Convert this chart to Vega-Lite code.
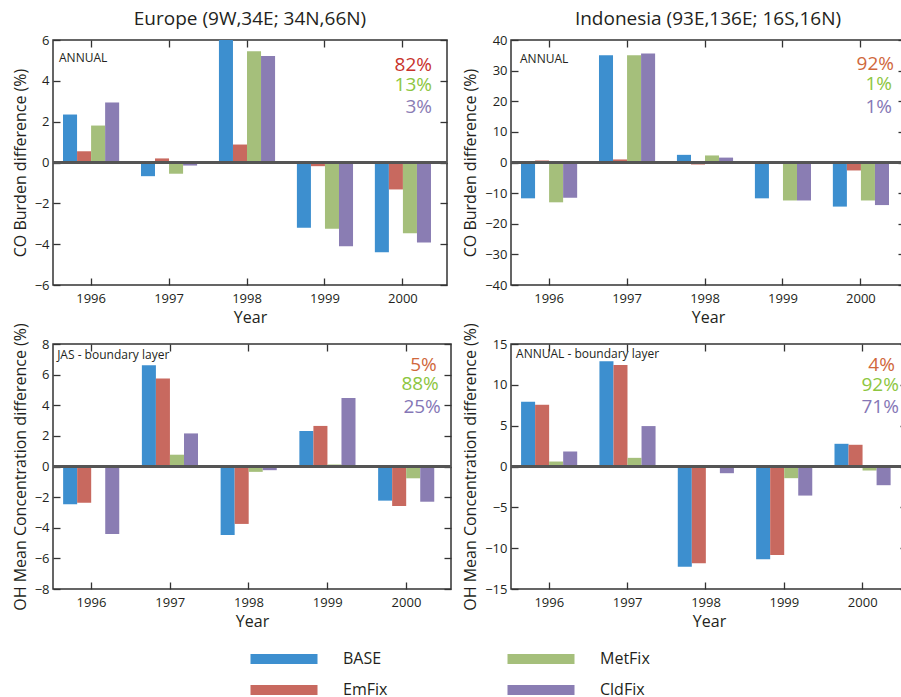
{
  "$schema": "https://vega.github.io/schema/vega-lite/v6.json",
  "background": "white",
  "padding": {"left": 11, "top": 9, "right": 0, "bottom": 0},
  "config": {
    "font": "Open Sans",
    "view": {"stroke": "#333333", "strokeWidth": 1.5},
    "axis": {"labelFontSize": 13, "labelColor": "#231f20", "titleFontSize": 16, "titleFontWeight": "normal", "titleColor": "#231f20", "domain": false, "grid": false, "tickColor": "#333333", "tickSize": -7, "tickWidth": 1.3},
    "axisX": {"labelAngle": 0, "labelPadding": 14, "titlePadding": 4},
    "axisY": {"labelPadding": 11, "titlePadding": 6},
    "title": {"fontSize": 19, "fontWeight": "normal", "color": "#231f20", "offset": 5},
    "legend": {"orient": "none", "legendX": 195, "legendY": 611, "direction": "vertical", "columns": 2, "columnPadding": 117, "rowPadding": 15, "symbolType": "M-6.7,-1L6.7,-1L6.7,1L-6.7,1Z", "symbolSize": 100, "symbolOffset": 28, "labelOffset": 51, "labelFontSize": 16, "labelColor": "#231f20", "symbolStrokeWidth": 0, "symbolOpacity": 1}
  },
  "datasets": {
    "eu_co": [
      {"year": "1996", "series": "BASE", "value": 2.35}, {"year": "1996", "series": "EmFix", "value": 0.55}, {"year": "1996", "series": "MetFix", "value": 1.81}, {"year": "1996", "series": "CldFix", "value": 2.94},
      {"year": "1997", "series": "BASE", "value": -0.67}, {"year": "1997", "series": "EmFix", "value": 0.2}, {"year": "1997", "series": "MetFix", "value": -0.55}, {"year": "1997", "series": "CldFix", "value": -0.15},
      {"year": "1998", "series": "BASE", "value": 6.0}, {"year": "1998", "series": "EmFix", "value": 0.88}, {"year": "1998", "series": "MetFix", "value": 5.45}, {"year": "1998", "series": "CldFix", "value": 5.22},
      {"year": "1999", "series": "BASE", "value": -3.2}, {"year": "1999", "series": "EmFix", "value": -0.18}, {"year": "1999", "series": "MetFix", "value": -3.25}, {"year": "1999", "series": "CldFix", "value": -4.1},
      {"year": "2000", "series": "BASE", "value": -4.4}, {"year": "2000", "series": "EmFix", "value": -1.32}, {"year": "2000", "series": "MetFix", "value": -3.47}, {"year": "2000", "series": "CldFix", "value": -3.92}
    ],
    "id_co": [
      {"year": "1996", "series": "BASE", "value": -11.7}, {"year": "1996", "series": "EmFix", "value": 0.65}, {"year": "1996", "series": "MetFix", "value": -13.0}, {"year": "1996", "series": "CldFix", "value": -11.5},
      {"year": "1997", "series": "BASE", "value": 35.0}, {"year": "1997", "series": "EmFix", "value": 1.0}, {"year": "1997", "series": "MetFix", "value": 35.0}, {"year": "1997", "series": "CldFix", "value": 35.6},
      {"year": "1998", "series": "BASE", "value": 2.5}, {"year": "1998", "series": "EmFix", "value": -0.65}, {"year": "1998", "series": "MetFix", "value": 2.3}, {"year": "1998", "series": "CldFix", "value": 1.6},
      {"year": "1999", "series": "BASE", "value": -11.7}, {"year": "1999", "series": "EmFix", "value": 0.3}, {"year": "1999", "series": "MetFix", "value": -12.4}, {"year": "1999", "series": "CldFix", "value": -12.4},
      {"year": "2000", "series": "BASE", "value": -14.4}, {"year": "2000", "series": "EmFix", "value": -2.6}, {"year": "2000", "series": "MetFix", "value": -12.4}, {"year": "2000", "series": "CldFix", "value": -13.9}
    ],
    "eu_oh": [
      {"year": "1996", "series": "BASE", "value": -2.47}, {"year": "1996", "series": "EmFix", "value": -2.36}, {"year": "1996", "series": "MetFix", "value": 0}, {"year": "1996", "series": "CldFix", "value": -4.41},
      {"year": "1997", "series": "BASE", "value": 6.62}, {"year": "1997", "series": "EmFix", "value": 5.74}, {"year": "1997", "series": "MetFix", "value": 0.77}, {"year": "1997", "series": "CldFix", "value": 2.16},
      {"year": "1998", "series": "BASE", "value": -4.48}, {"year": "1998", "series": "EmFix", "value": -3.75}, {"year": "1998", "series": "MetFix", "value": -0.35}, {"year": "1998", "series": "CldFix", "value": -0.24},
      {"year": "1999", "series": "BASE", "value": 2.32}, {"year": "1999", "series": "EmFix", "value": 2.65}, {"year": "1999", "series": "MetFix", "value": 0.13}, {"year": "1999", "series": "CldFix", "value": 4.48},
      {"year": "2000", "series": "BASE", "value": -2.23}, {"year": "2000", "series": "EmFix", "value": -2.58}, {"year": "2000", "series": "MetFix", "value": -0.77}, {"year": "2000", "series": "CldFix", "value": -2.3}
    ],
    "id_oh": [
      {"year": "1996", "series": "BASE", "value": 7.93}, {"year": "1996", "series": "EmFix", "value": 7.56}, {"year": "1996", "series": "MetFix", "value": 0.61}, {"year": "1996", "series": "CldFix", "value": 1.84},
      {"year": "1997", "series": "BASE", "value": 12.88}, {"year": "1997", "series": "EmFix", "value": 12.43}, {"year": "1997", "series": "MetFix", "value": 1.06}, {"year": "1997", "series": "CldFix", "value": 4.95},
      {"year": "1998", "series": "BASE", "value": -12.27}, {"year": "1998", "series": "EmFix", "value": -11.86}, {"year": "1998", "series": "MetFix", "value": -0.08}, {"year": "1998", "series": "CldFix", "value": -0.82},
      {"year": "1999", "series": "BASE", "value": -11.37}, {"year": "1999", "series": "EmFix", "value": -10.83}, {"year": "1999", "series": "MetFix", "value": -1.43}, {"year": "1999", "series": "CldFix", "value": -3.56},
      {"year": "2000", "series": "BASE", "value": 2.78}, {"year": "2000", "series": "EmFix", "value": 2.66}, {"year": "2000", "series": "MetFix", "value": -0.49}, {"year": "2000", "series": "CldFix", "value": -2.29}
    ]
  },
  "columns": 2,
  "spacing": {"row": -4, "column": 8},
  "concat": [
    {
      "width": 394, "height": 245,
      "title": {"text": "Europe (9W,34E; 34N,66N)"},
      "data": {"name": "eu_co"},
      "resolve": {"axis": {"x": "independent", "y": "independent"}},
      "layer": [
        {
          "mark": {"type": "bar", "clip": true},
          "encoding": {
            "x": {"field": "year", "type": "nominal", "title": "Year", "scale": {"paddingInner": 0.28, "paddingOuter": 0.167, "align": 0.385}, "axis": {"orient": "bottom"}},
            "xOffset": {"field": "series", "type": "nominal", "sort": ["BASE", "EmFix", "MetFix", "CldFix"], "scale": {"paddingInner": 0, "paddingOuter": 0}},
            "y": {"field": "value", "type": "quantitative", "title": "CO Burden difference (%)", "scale": {"domain": [-6, 6], "nice": false, "zero": false}, "axis": {"orient": "left", "values": [-6, -4, -2, 0, 2, 4, 6]}},
            "color": {"field": "series", "type": "nominal", "title": null, "scale": {"domain": ["BASE", "EmFix", "MetFix", "CldFix"], "range": ["#3d8fcf", "#c8695f", "#a5bf7b", "#8a7db3"]}}
          }
        },
        {
          "mark": {"type": "text", "text": ""},
          "encoding": {
            "x": {"field": "year", "type": "nominal", "axis": {"orient": "top", "labels": false, "title": null}},
            "y": {"field": "value", "type": "quantitative", "axis": {"orient": "right", "labels": false, "title": null, "values": [-6, -4, -2, 0, 2, 4, 6]}}
          }
        },
        {
          "mark": {"type": "rule", "color": "#555555", "strokeWidth": 1.5},
          "encoding": {"y": {"datum": 0, "type": "quantitative", "axis": null}}
        },
        {
          "data": {"values": [{"label": "ANNUAL"}]},
          "mark": {"type": "text", "align": "left", "baseline": "middle", "fontSize": 12, "color": "#231f20", "dx": -4},
          "encoding": {"text": {"field": "label"}, "x": {"datum": "1996", "bandPosition": 0, "axis": null}, "y": {"datum": 5.12, "type": "quantitative", "axis": null}}
        },
        {
          "data": {"values": [{"label": "82%"}]},
          "mark": {"type": "text", "align": "right", "baseline": "middle", "fontSize": 19, "color": "#c8332c", "dx": 1},
          "encoding": {"text": {"field": "label"}, "x": {"datum": "2000", "bandPosition": 1, "axis": null}, "y": {"datum": 4.78, "type": "quantitative", "axis": null}}
        },
        {
          "data": {"values": [{"label": "13%"}]},
          "mark": {"type": "text", "align": "right", "baseline": "middle", "fontSize": 19, "color": "#8dc641", "dx": 1},
          "encoding": {"text": {"field": "label"}, "x": {"datum": "2000", "bandPosition": 1, "axis": null}, "y": {"datum": 3.8, "type": "quantitative", "axis": null}}
        },
        {
          "data": {"values": [{"label": "3%"}]},
          "mark": {"type": "text", "align": "right", "baseline": "middle", "fontSize": 19, "color": "#8a7cb5", "dx": 1},
          "encoding": {"text": {"field": "label"}, "x": {"datum": "2000", "bandPosition": 1, "axis": null}, "y": {"datum": 2.72, "type": "quantitative", "axis": null}}
        }
      ]
    },
    {
      "width": 394, "height": 245,
      "title": {"text": "Indonesia (93E,136E; 16S,16N)"},
      "data": {"name": "id_co"},
      "resolve": {"axis": {"x": "independent", "y": "independent"}},
      "layer": [
        {
          "mark": {"type": "bar", "clip": true},
          "encoding": {
            "x": {"field": "year", "type": "nominal", "title": "Year", "scale": {"paddingInner": 0.28, "paddingOuter": 0.167, "align": 0.385}, "axis": {"orient": "bottom"}},
            "xOffset": {"field": "series", "type": "nominal", "sort": ["BASE", "EmFix", "MetFix", "CldFix"], "scale": {"paddingInner": 0, "paddingOuter": 0}},
            "y": {"field": "value", "type": "quantitative", "title": "CO Burden difference (%)", "scale": {"domain": [-40, 40], "nice": false, "zero": false}, "axis": {"orient": "left", "values": [-40, -30, -20, -10, 0, 10, 20, 30, 40]}},
            "color": {"field": "series", "type": "nominal", "title": null, "scale": {"domain": ["BASE", "EmFix", "MetFix", "CldFix"], "range": ["#3d8fcf", "#c8695f", "#a5bf7b", "#8a7db3"]}}
          }
        },
        {
          "mark": {"type": "text", "text": ""},
          "encoding": {
            "x": {"field": "year", "type": "nominal", "axis": {"orient": "top", "labels": false, "title": null}},
            "y": {"field": "value", "type": "quantitative", "axis": {"orient": "right", "labels": false, "title": null, "values": [-40, -30, -20, -10, 0, 10, 20, 30, 40]}}
          }
        },
        {
          "mark": {"type": "rule", "color": "#555555", "strokeWidth": 1.5},
          "encoding": {"y": {"datum": 0, "type": "quantitative", "axis": null}}
        },
        {
          "data": {"values": [{"label": "ANNUAL"}]},
          "mark": {"type": "text", "align": "left", "baseline": "middle", "fontSize": 12, "color": "#231f20", "dx": -1},
          "encoding": {"text": {"field": "label"}, "x": {"datum": "1996", "bandPosition": 0, "axis": null}, "y": {"datum": 33.8, "type": "quantitative", "axis": null}}
        },
        {
          "data": {"values": [{"label": "92%"}]},
          "mark": {"type": "text", "align": "right", "baseline": "middle", "fontSize": 19, "color": "#d0683c", "dx": 5},
          "encoding": {"text": {"field": "label"}, "x": {"datum": "2000", "bandPosition": 1, "axis": null}, "y": {"datum": 32.2, "type": "quantitative", "axis": null}}
        },
        {
          "data": {"values": [{"label": "1%"}]},
          "mark": {"type": "text", "align": "right", "baseline": "middle", "fontSize": 19, "color": "#8dc641", "dx": 3},
          "encoding": {"text": {"field": "label"}, "x": {"datum": "2000", "bandPosition": 1, "axis": null}, "y": {"datum": 25.6, "type": "quantitative", "axis": null}}
        },
        {
          "data": {"values": [{"label": "1%"}]},
          "mark": {"type": "text", "align": "right", "baseline": "middle", "fontSize": 19, "color": "#8577b6", "dx": 3},
          "encoding": {"text": {"field": "label"}, "x": {"datum": "2000", "bandPosition": 1, "axis": null}, "y": {"datum": 18.1, "type": "quantitative", "axis": null}}
        }
      ]
    },
    {
      "width": 398, "height": 245,
      "data": {"name": "eu_oh"},
      "resolve": {"axis": {"x": "independent", "y": "independent"}},
      "layer": [
        {
          "mark": {"type": "bar", "clip": true},
          "encoding": {
            "x": {"field": "year", "type": "nominal", "title": "Year", "scale": {"paddingInner": 0.28, "paddingOuter": 0.167, "align": 0.385}, "axis": {"orient": "bottom"}},
            "xOffset": {"field": "series", "type": "nominal", "sort": ["BASE", "EmFix", "MetFix", "CldFix"], "scale": {"paddingInner": 0, "paddingOuter": 0}},
            "y": {"field": "value", "type": "quantitative", "title": "OH Mean Concentration difference (%)", "scale": {"domain": [-8, 8], "nice": false, "zero": false}, "axis": {"orient": "left", "values": [-8, -6, -4, -2, 0, 2, 4, 6, 8]}},
            "color": {"field": "series", "type": "nominal", "title": null, "scale": {"domain": ["BASE", "EmFix", "MetFix", "CldFix"], "range": ["#3d8fcf", "#c8695f", "#a5bf7b", "#8a7db3"]}}
          }
        },
        {
          "mark": {"type": "text", "text": ""},
          "encoding": {
            "x": {"field": "year", "type": "nominal", "axis": {"orient": "top", "labels": false, "title": null}},
            "y": {"field": "value", "type": "quantitative", "axis": {"orient": "right", "labels": false, "title": null, "values": [-8, -6, -4, -2, 0, 2, 4, 6, 8]}}
          }
        },
        {
          "mark": {"type": "rule", "color": "#555555", "strokeWidth": 1.5},
          "encoding": {"y": {"datum": 0, "type": "quantitative", "axis": null}}
        },
        {
          "data": {"values": [{"label": "JAS - boundary layer"}]},
          "mark": {"type": "text", "align": "left", "baseline": "middle", "fontSize": 12, "color": "#231f20", "dx": -6},
          "encoding": {"text": {"field": "label"}, "x": {"datum": "1996", "bandPosition": 0, "axis": null}, "y": {"datum": 7.28, "type": "quantitative", "axis": null}}
        },
        {
          "data": {"values": [{"label": "5%"}]},
          "mark": {"type": "text", "align": "right", "baseline": "middle", "fontSize": 19, "color": "#d0683c", "dx": 2},
          "encoding": {"text": {"field": "label"}, "x": {"datum": "2000", "bandPosition": 1, "axis": null}, "y": {"datum": 6.63, "type": "quantitative", "axis": null}}
        },
        {
          "data": {"values": [{"label": "88%"}]},
          "mark": {"type": "text", "align": "right", "baseline": "middle", "fontSize": 19, "color": "#8dc641", "dx": 4},
          "encoding": {"text": {"field": "label"}, "x": {"datum": "2000", "bandPosition": 1, "axis": null}, "y": {"datum": 5.39, "type": "quantitative", "axis": null}}
        },
        {
          "data": {"values": [{"label": "25%"}]},
          "mark": {"type": "text", "align": "right", "baseline": "middle", "fontSize": 19, "color": "#8577b6", "dx": 6},
          "encoding": {"text": {"field": "label"}, "x": {"datum": "2000", "bandPosition": 1, "axis": null}, "y": {"datum": 3.89, "type": "quantitative", "axis": null}}
        }
      ]
    },
    {
      "width": 396, "height": 245,
      "data": {"name": "id_oh"},
      "resolve": {"axis": {"x": "independent", "y": "independent"}},
      "layer": [
        {
          "mark": {"type": "bar", "clip": true},
          "encoding": {
            "x": {"field": "year", "type": "nominal", "title": "Year", "scale": {"paddingInner": 0.28, "paddingOuter": 0.167, "align": 0.385}, "axis": {"orient": "bottom"}},
            "xOffset": {"field": "series", "type": "nominal", "sort": ["BASE", "EmFix", "MetFix", "CldFix"], "scale": {"paddingInner": 0, "paddingOuter": 0}},
            "y": {"field": "value", "type": "quantitative", "title": "OH Mean Concentration difference (%)", "scale": {"domain": [-15, 15], "nice": false, "zero": false}, "axis": {"orient": "left", "values": [-15, -10, -5, 0, 5, 10, 15]}},
            "color": {"field": "series", "type": "nominal", "title": null, "scale": {"domain": ["BASE", "EmFix", "MetFix", "CldFix"], "range": ["#3d8fcf", "#c8695f", "#a5bf7b", "#8a7db3"]}}
          }
        },
        {
          "mark": {"type": "text", "text": ""},
          "encoding": {
            "x": {"field": "year", "type": "nominal", "axis": {"orient": "top", "labels": false, "title": null}},
            "y": {"field": "value", "type": "quantitative", "axis": {"orient": "right", "labels": false, "title": null, "values": [-15, -10, -5, 0, 5, 10, 15]}}
          }
        },
        {
          "mark": {"type": "rule", "color": "#555555", "strokeWidth": 1.5},
          "encoding": {"y": {"datum": 0, "type": "quantitative", "axis": null}}
        },
        {
          "data": {"values": [{"label": "ANNUAL - boundary layer"}]},
          "mark": {"type": "text", "align": "left", "baseline": "middle", "fontSize": 12, "color": "#231f20", "dx": -5},
          "encoding": {"text": {"field": "label"}, "x": {"datum": "1996", "bandPosition": 0, "axis": null}, "y": {"datum": 13.78, "type": "quantitative", "axis": null}}
        },
        {
          "data": {"values": [{"label": "4%"}]},
          "mark": {"type": "text", "align": "right", "baseline": "middle", "fontSize": 19, "color": "#d0683c", "dx": 4},
          "encoding": {"text": {"field": "label"}, "x": {"datum": "2000", "bandPosition": 1, "axis": null}, "y": {"datum": 12.43, "type": "quantitative", "axis": null}}
        },
        {
          "data": {"values": [{"label": "92%"}]},
          "mark": {"type": "text", "align": "right", "baseline": "middle", "fontSize": 19, "color": "#8dc641", "dx": 8},
          "encoding": {"text": {"field": "label"}, "x": {"datum": "2000", "bandPosition": 1, "axis": null}, "y": {"datum": 9.98, "type": "quantitative", "axis": null}}
        },
        {
          "data": {"values": [{"label": "71%"}]},
          "mark": {"type": "text", "align": "right", "baseline": "middle", "fontSize": 19, "color": "#8577b6", "dx": 8},
          "encoding": {"text": {"field": "label"}, "x": {"datum": "2000", "bandPosition": 1, "axis": null}, "y": {"datum": 7.29, "type": "quantitative", "axis": null}}
        }
      ]
    }
  ]
}
